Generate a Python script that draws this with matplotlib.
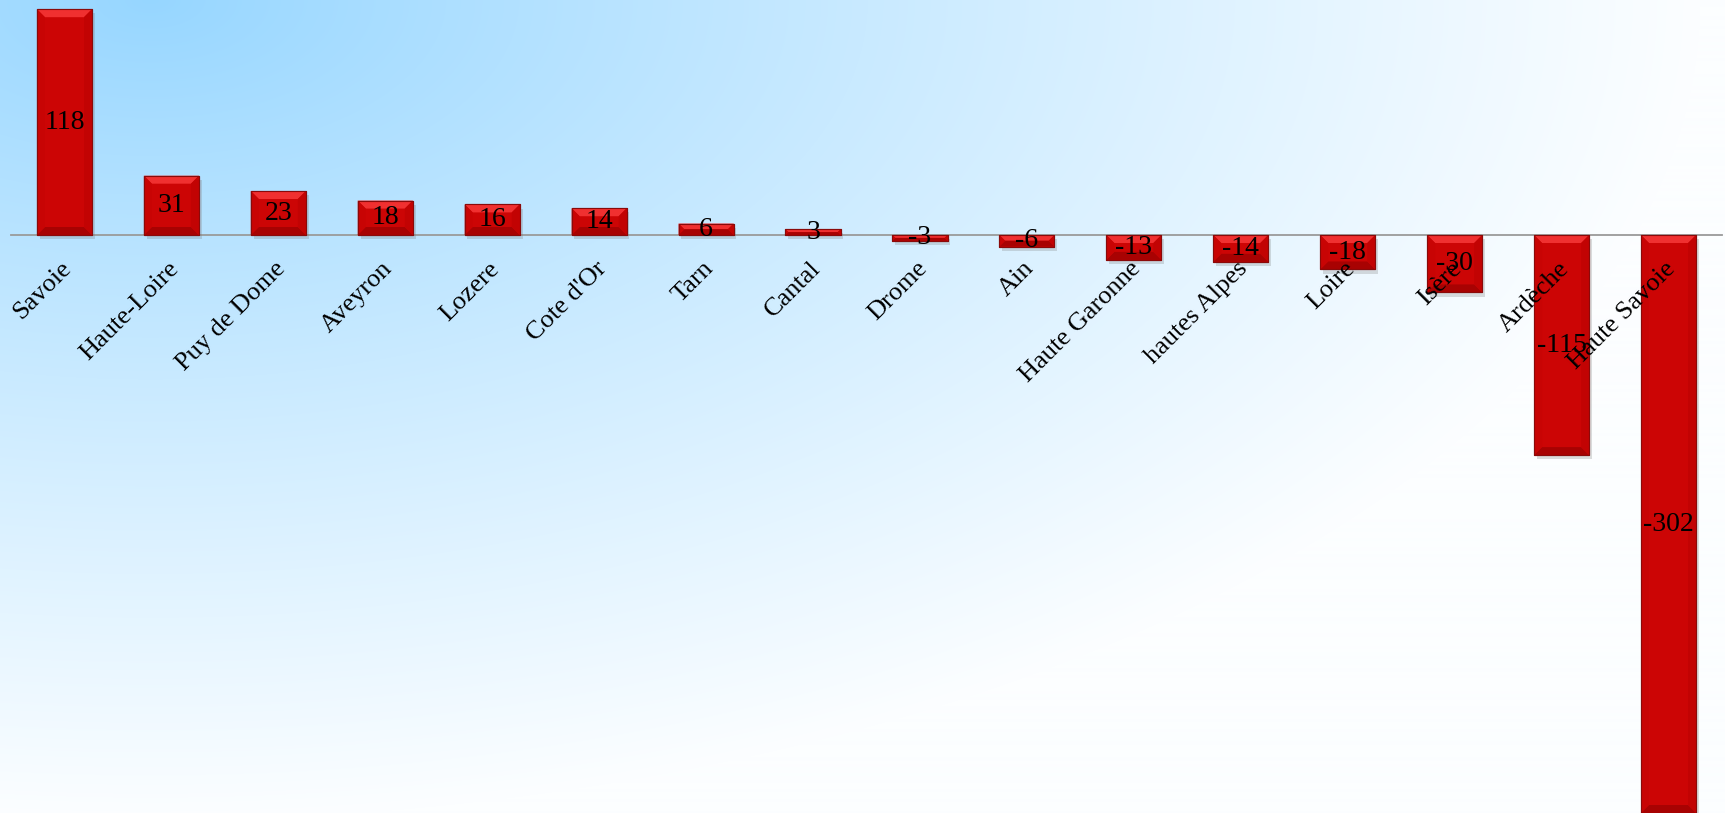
import numpy as np
import matplotlib
matplotlib.use("Agg")
import matplotlib.pyplot as plt
from matplotlib.patches import Polygon
import matplotlib.patheffects as pe
from matplotlib.transforms import ScaledTranslation

categories = ["Savoie", "Haute-Loire", "Puy de Dome", "Aveyron", "Lozere", "Cote d'Or",
              "Tarn", "Cantal", "Drome", "Ain", "Haute Garonne", "hautes Alpes",
              "Loire", "Isère", "Ardèche", "Haute Savoie"]
values = [118, 31, 23, 18, 16, 14, 6, 3, -3, -6, -13, -14, -18, -30, -115, -302]

W, H = 1725, 813
fig = plt.figure(figsize=(W / 100, H / 100), dpi=100)

# background gradient (elliptical from top-left)
bg = fig.add_axes([0, 0, 1, 1])
yy, xx = np.mgrid[0:H, 0:W]
t = np.sqrt(((xx - 150) / 1550.0) ** 2 + (yy / 820.0) ** 2)
t = np.clip(t, 0, 1) ** 0.9
c0 = np.array([150, 214, 255]) / 255.0
c1 = np.array([252, 254, 255]) / 255.0
img = c0[None, None, :] * (1 - t[..., None]) + c1[None, None, :] * t[..., None]
bg.imshow(img, aspect="auto", extent=[0, 1, 0, 1], origin="upper")
bg.axis("off")

ax = fig.add_axes([11 / W, 0, (1722 - 11) / W, 1])
ax.patch.set_alpha(0)
x = np.arange(len(categories))
bars = ax.bar(x, values, width=0.515, color="#cc0505", edgecolor="#8a0a0a", linewidth=0.8,
              zorder=3)
for b in bars:
    b.set_path_effects([pe.SimplePatchShadow(offset=(2, -3), shadow_rgbFace="#777777", alpha=0.25),
                        pe.Normal()])

ax.set_xlim(-0.5, len(categories) - 0.5)
ax.set_ylim(-302, 122.8)

# bevel decoration derived from bar geometry
fig.canvas.draw()
inv = ax.transData.inverted()
for b in bars:
    x0, y0 = b.get_x(), b.get_y()
    w, h = b.get_width(), b.get_height()
    ylo, yhi = min(y0, y0 + h), max(y0, y0 + h)
    p0 = ax.transData.transform((x0, ylo))
    p1 = ax.transData.transform((x0 + w, yhi))
    hpx = p1[1] - p0[1]
    bev = min(8.0, hpx / 2.0)
    (bx0, by0) = inv.transform((p0[0], p0[1]))
    (bx1, by1) = inv.transform((p1[0], p1[1]))
    (ix0, iy0) = inv.transform((p0[0] + bev, p0[1] + bev))
    (ix1, iy1) = inv.transform((p1[0] - bev, p1[1] - bev))
    if iy1 < iy0:
        iy0 = iy1 = (by0 + by1) / 2
    top = Polygon([(bx0, by1), (bx1, by1), (ix1, iy1), (ix0, iy1)], closed=True,
                  facecolor="#f03030", edgecolor="none", zorder=4)
    bot = Polygon([(bx0, by0), (bx1, by0), (ix1, iy0), (ix0, iy0)], closed=True,
                  facecolor="#a80202", edgecolor="none", zorder=4)
    left = Polygon([(bx0, by0), (ix0, iy0), (ix0, iy1), (bx0, by1)], closed=True,
                   facecolor="#c80404", edgecolor="none", zorder=4)
    right = Polygon([(bx1, by0), (ix1, iy0), (ix1, iy1), (bx1, by1)], closed=True,
                    facecolor="#c20303", edgecolor="none", zorder=4)
    for p in (top, bot, left, right):
        ax.add_patch(p)
    edge = Polygon([(bx0, by0), (bx1, by0), (bx1, by1), (bx0, by1)], closed=True,
                   facecolor="none", edgecolor="#8a0a0a", linewidth=0.8, zorder=4.5)
    ax.add_patch(edge)

ax.bar_label(bars, labels=[str(v) for v in values], label_type="center",
             fontsize=20, family="Liberation Serif", color="black", zorder=6)
for t_ in ax.texts:
    t_.set_zorder(6)

for s in ["top", "right", "left"]:
    ax.spines[s].set_visible(False)
ax.spines["bottom"].set_position(("data", 0))
ax.spines["bottom"].set_color("#9a9a9a")
ax.spines["bottom"].set_linewidth(1.3)
ax.spines["bottom"].set_zorder(2)
ax.set_yticks([])
ax.set_xticks(x)
ax.set_xticklabels(categories, rotation=45, ha="right", rotation_mode="anchor",
                   fontsize=19, family="Liberation Serif")
ax.tick_params(axis="x", length=0, pad=9)
ax.xaxis.set_zorder(10)
off = ScaledTranslation(-4 / 100, -10 / 100, fig.dpi_scale_trans)
for lbl in ax.get_xticklabels():
    lbl.set_transform(lbl.get_transform() + off)

fig.savefig("out.png", dpi=100)
